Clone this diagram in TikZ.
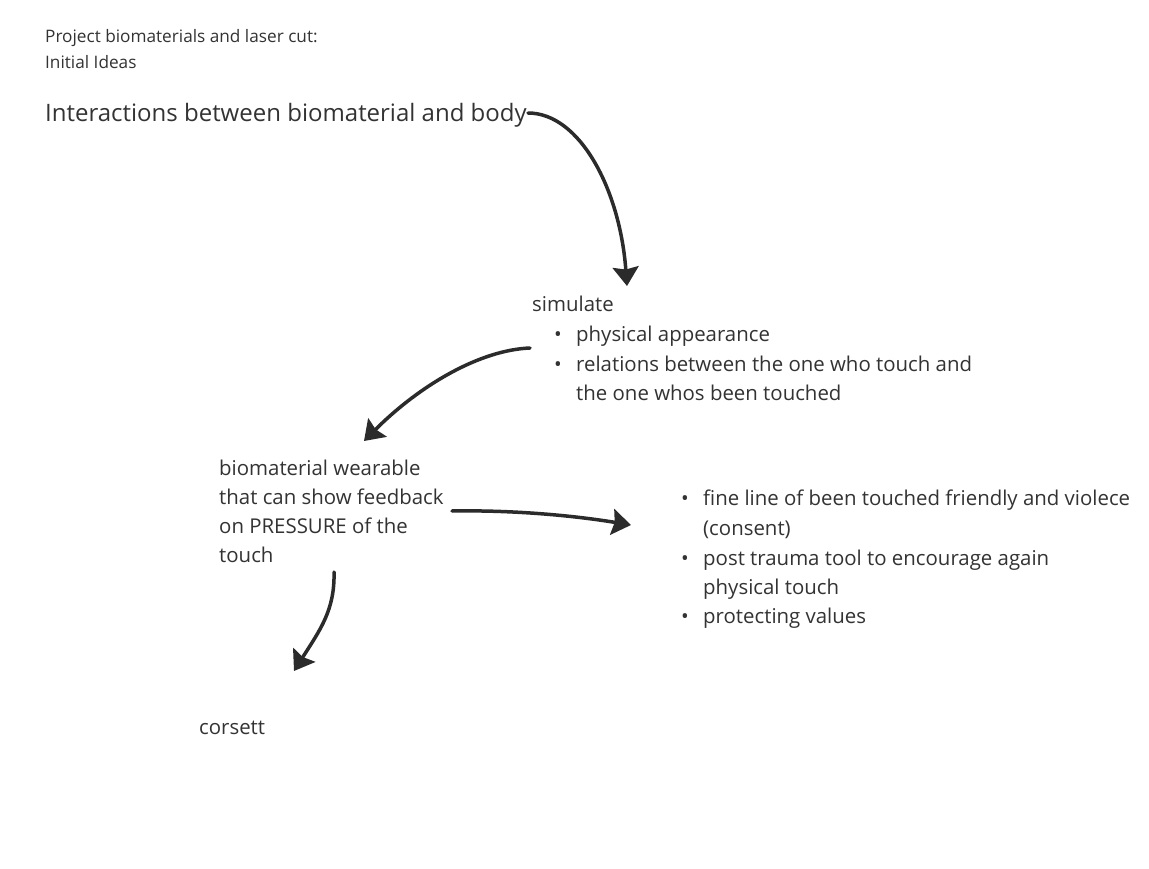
\documentclass[tikz,border=0pt]{standalone}
\usepackage{fontspec}
\setmainfont{Open Sans}
\usetikzlibrary{arrows.meta}
\definecolor{ink}{HTML}{333333}
\definecolor{arr}{HTML}{2B2B2B}
\begin{document}
\begin{tikzpicture}[x=1pt,y=-1pt,
  txt/.style={anchor=base west,inner sep=0pt,text=ink,font=\fontsize{20.4}{24}\selectfont},
  small/.style={txt,font=\fontsize{17.2}{20}\selectfont},
  big/.style={txt,font=\fontsize{24}{28}\selectfont},
  bul/.style={anchor=base,inner sep=0pt,text=ink,font=\fontsize{20.4}{24}\selectfont},
  conn/.style={line width=3.5pt,draw=arr,line cap=round,-{Stealth[length=19pt,width=26pt,inset=2.5pt]}}]
\useasboundingbox[fill=white] (0,0) rectangle (1149,869);

\node[small] (p1) at (45,43) {Project biomaterials and laser cut:};
\node[small] (p2) at (45,68.5) {Initial Ideas};
\node[big] (title) at (45,122) {Interactions between biomaterial and body};

\node[txt] (sim) at (532,311) {simulate};
\node[bul] (b1) at (558,341) {•};
\node[txt] (s1) at (576,341) {physical appearance};
\node[bul] (b2) at (558,371) {•};
\node[txt] (s2) at (576,371) {relations between the one who touch and};
\node[txt] (s3) at (576,400) {the one whos been touched};

\node[txt] (w1) at (219,475) {biomaterial wearable};
\node[txt] (w2) at (219,504) {that can show feedback};
\node[txt] (w3) at (219,533) {on PRESSURE of the};
\node[txt] (w4) at (219,562) {touch};

\node[bul] (c1) at (685,505) {•};
\node[txt] (r1) at (703,505) {fine line of been touched friendly and violece};
\node[txt] (r2) at (703,535) {(consent)};
\node[bul] (c2) at (685,565) {•};
\node[txt] (r3) at (703,565) {post trauma tool to encourage again};
\node[txt] (r4) at (703,594) {physical touch};
\node[bul] (c3) at (685,623) {•};
\node[txt] (r5) at (703,623) {protecting values};

\node[txt] (cor) at (199,734) {corsett};

\coordinate (a1s) at (528,113);
\coordinate (a1e) at (627,286);
\coordinate (a2s) at (530,348);
\coordinate (a2e) at (364,441);
\coordinate (a3s) at (452,511);
\coordinate (a3e) at (631,525);
\coordinate (a4s) at (334,572);
\coordinate (a4e) at (294,671);

\draw[conn] (a1s) .. controls (580,113) and (620,190) .. (a1e);
\draw[conn] (a2s) .. controls (480,350) and (420,385) .. (a2e);
\draw[conn] (a3s) .. controls (510,510) and (570,515) .. (a3e);
\draw[conn] (a4s) .. controls (335,610) and (320,630) .. (a4e);
\end{tikzpicture}
\end{document}
